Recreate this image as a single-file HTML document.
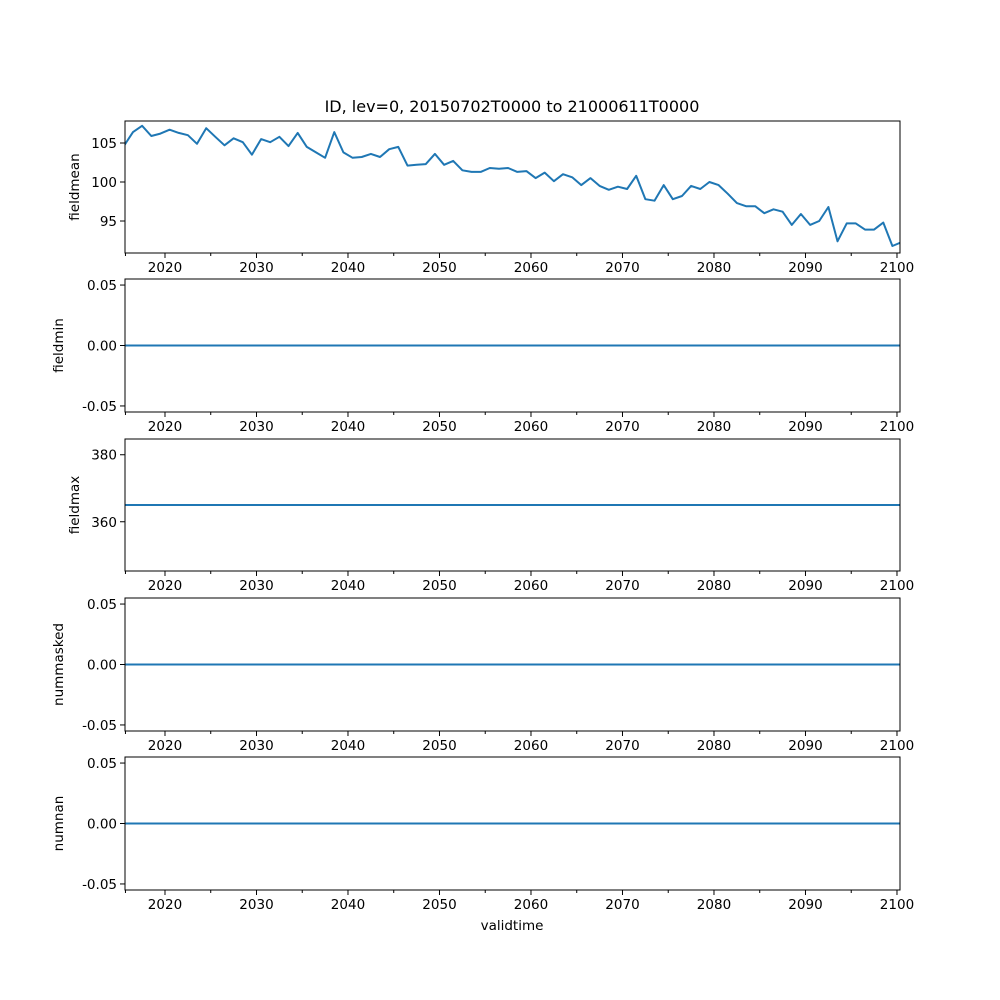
<!DOCTYPE html>
<html><head><meta charset="utf-8"><style>
body{margin:0;background:#fff}
svg{display:block}
text{font-family:"DejaVu Sans","Liberation Sans",sans-serif;font-size:13.5px;fill:#000}
</style></head><body>
<svg id="chart" width="1000" height="1000" viewBox="0 0 1000 1000">
<text x="512" y="112" text-anchor="middle" font-size="16" style="font-size:16px">ID, lev=0, 20150702T0000 to 21000611T0000</text>
<text x="512" y="930" text-anchor="middle">validtime</text>
</svg>
<script>
const years = [];
for (let i = 0; i < 86; i++) years.push(2015.5 + i);
const fieldmean = [104.6,106.4,107.2,105.9,106.2,106.7,106.3,106.0,104.9,106.9,105.8,104.7,105.6,105.1,103.5,105.5,105.1,105.8,104.6,106.3,104.5,103.8,103.1,106.4,103.8,103.1,103.2,103.6,103.2,104.2,104.5,102.1,102.2,102.3,103.6,102.2,102.7,101.5,101.3,101.3,101.8,101.7,101.8,101.3,101.4,100.5,101.2,100.1,101.0,100.6,99.6,100.5,99.5,99.0,99.4,99.1,100.8,97.8,97.6,99.6,97.8,98.2,99.5,99.1,100.0,99.6,98.5,97.3,96.9,96.9,96.0,96.5,96.2,94.5,95.9,94.5,95.0,96.8,92.4,94.7,94.7,93.9,93.9,94.8,91.8,92.3];
const fieldminValue = 0;
const fieldmaxValue = 365;
const nummaskedValue = 0;
const numnanValue = 0;
const xTicks = [2020,2030,2040,2050,2060,2070,2080,2090,2100];
const xMinor = [2025,2035,2045,2055,2065,2075,2085,2095];

const NS = "http://www.w3.org/2000/svg";
const svg = document.getElementById('chart');
const L = 125, R = 900, X0 = 2015.63, X1 = 2100.33;
const xs = v => L + (v - X0) / (X1 - X0) * (R - L);
function el(tag, attrs, parent) {
  const e = document.createElementNS(NS, tag);
  for (const k in attrs) e.setAttribute(k, attrs[k]);
  (parent || svg).appendChild(e);
  return e;
}
const panels = [
  {name:'fieldmean', top:121, bot:253, y0:90.9, y1:107.82, ticks:[95,100,105], fmt:v=>String(v), vals:fieldmean},
  {name:'fieldmin', top:279, bot:412, y0:-0.055, y1:0.055, ticks:[-0.05,0,0.05], fmt:v=>v.toFixed(2), vals:years.map(()=>fieldminValue)},
  {name:'fieldmax', top:439, bot:571, y0:345.3, y1:384.7, ticks:[360,380], fmt:v=>String(v), vals:years.map(()=>fieldmaxValue)},
  {name:'nummasked', top:598, bot:731, y0:-0.055, y1:0.055, ticks:[-0.05,0,0.05], fmt:v=>v.toFixed(2), vals:years.map(()=>nummaskedValue)},
  {name:'numnan', top:757, bot:890, y0:-0.055, y1:0.055, ticks:[-0.05,0,0.05], fmt:v=>v.toFixed(2), vals:years.map(()=>numnanValue)}
];
panels.forEach(p => {
  const g = el('g', {});
  
  
  const ys = v => p.bot - (v - p.y0) / (p.y1 - p.y0) * (p.bot - p.top);
  const pts = years.map((y, i) => xs(y).toFixed(1) + ',' + ys(p.vals[i]).toFixed(1)).join(' ');
  const cp = el('clipPath', {id:'c-' + p.name}, g);
  el('rect', {x:L, y:p.top, width:R-L, height:p.bot-p.top}, cp);
  const line = el('polyline', {points:pts, fill:'none', stroke:'#1f77b4', 'stroke-width':2, 'clip-path':'url(#c-'+p.name+')', 'stroke-linejoin':'round'}, g);
  
  
  const frame = el('rect', {x:L, y:p.top, width:R-L, height:p.bot-p.top, fill:'none', stroke:'#000', 'stroke-width':1}, g);
  
  
  xTicks.forEach(t => {
    el('line', {x1:xs(t), x2:xs(t), y1:p.bot, y2:p.bot+5, stroke:'#000'}, g);
    const tx = el('text', {x:xs(t), y:p.bot+19, 'text-anchor':'middle'}, g);
    tx.textContent = t;
    
    
  });
  xMinor.concat([X0 + 0.05]).forEach(t => el('line', {x1:xs(t), x2:xs(t), y1:p.bot, y2:p.bot+3, stroke:'#000'}, g));
  p.ticks.forEach(t => {
    el('line', {x1:L-5, x2:L, y1:ys(t), y2:ys(t), stroke:'#000'}, g);
    const tx = el('text', {x:L-8, y:ys(t)+5, 'text-anchor':'end'}, g);
    tx.textContent = p.fmt(t);
    
    
  });
  const yc = (p.top + p.bot) / 2;
  const lx = p.name === 'fieldmean' ? 79 : (p.name === 'fieldmax' ? 79 : 63);
  const lab = el('text', {x:lx, y:yc, 'text-anchor':'middle', transform:'rotate(-90 '+lx+' '+yc+')'}, g);
  lab.textContent = p.name;
  
  
});
</script>
</body></html>
